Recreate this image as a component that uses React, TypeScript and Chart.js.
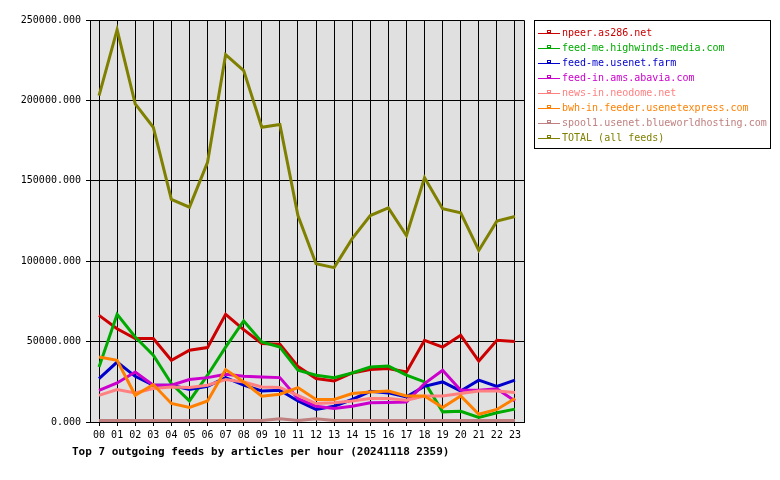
import React, { useEffect, useRef } from "react";
import { Chart, registerables } from "chart.js";

Chart.register(...registerables);

// Hours of the day shown on the x axis
const HOURS = [
  "00", "01", "02", "03", "04", "05", "06", "07", "08", "09", "10", "11",
  "12", "13", "14", "15", "16", "17", "18", "19", "20", "21", "22", "23",
];

// Articles per hour for each outgoing feed
const NPEER = [66300, 58000, 51900, 51900, 38400, 44600, 46300, 67000, 57400, 48800, 48300, 34500, 27000, 25500, 30500, 32600, 33200, 31100, 50800, 46600, 53900, 37900, 50800, 50000];
const HIGHWINDS = [34200, 67000, 52900, 41500, 23900, 13100, 29100, 46600, 62800, 49800, 46600, 32200, 29100, 27600, 30500, 34200, 34800, 29100, 24900, 6300, 6700, 2800, 5700, 8000];
const USENET_FARM = [27000, 37300, 28400, 22900, 22900, 20200, 22200, 27600, 22900, 19300, 19700, 13100, 7800, 9800, 14000, 19100, 18100, 15600, 22200, 24900, 19300, 26000, 22200, 26000];
const ABAVIA = [19700, 24300, 31100, 22900, 22900, 26400, 27600, 29700, 28400, 28000, 27600, 14600, 9800, 8400, 9800, 11900, 12100, 12500, 23900, 32200, 19700, 19700, 20600, 13100];
const NEODOME = [16600, 20200, 18100, 20800, 21800, 21400, 22900, 26400, 24900, 21800, 21400, 16600, 11500, 11900, 13100, 14600, 14600, 13500, 16200, 16200, 17700, 19300, 19300, 18300];
const USENETEXPRESS = [40400, 38400, 16600, 23300, 11500, 9000, 13100, 32600, 24900, 16000, 17300, 21400, 14000, 14000, 17700, 18700, 19300, 16200, 16200, 9000, 16200, 4800, 7800, 14600];
const BLUEWORLD = [900, 900, 900, 900, 900, 900, 900, 900, 900, 900, 2000, 900, 2000, 900, 900, 900, 900, 900, 900, 900, 900, 900, 900, 900];
const TOTAL = [203000, 244000, 197800, 183300, 138400, 133600, 161500, 228400, 218500, 183300, 185000, 128400, 98400, 96000, 114000, 128400, 133200, 116000, 151900, 132600, 130100, 106700, 124900, 127800];

// Y axis tick values
const Y_TICKS = [0, 50000, 100000, 150000, 200000, 250000];

const SERIES = [
  { label: "npeer.as286.net", data: NPEER, color: "#cc0000" },
  { label: "feed-me.highwinds-media.com", data: HIGHWINDS, color: "#00aa00" },
  { label: "feed-me.usenet.farm", data: USENET_FARM, color: "#0000cc" },
  { label: "feed-in.ams.abavia.com", data: ABAVIA, color: "#cc00cc" },
  { label: "news-in.neodome.net", data: NEODOME, color: "#ff8080" },
  { label: "bwh-in.feeder.usenetexpress.com", data: USENETEXPRESS, color: "#ff8000" },
  { label: "spool1.usenet.blueworldhosting.com", data: BLUEWORLD, color: "#c08080" },
  { label: "TOTAL (all feeds)", data: TOTAL, color: "#808000" },
];

const TITLE = "Top 7 outgoing feeds by articles per hour (20241118 2359)";
const MONO = '"DejaVu Sans Mono", "Liberation Mono", monospace';

const framePlugin = {
  id: "frame",
  beforeDraw(chart: any) {
    const { ctx, chartArea } = chart;
    ctx.save();
    ctx.fillStyle = "#ffffff";
    ctx.fillRect(0, 0, chart.width, chart.height);
    ctx.fillStyle = "#e0e0e0";
    ctx.fillRect(chartArea.left, chartArea.top, chartArea.right - chartArea.left, chartArea.bottom - chartArea.top);
    ctx.restore();
  },
  beforeDatasetsDraw(chart: any) {
    const { ctx, chartArea } = chart;
    ctx.save();
    ctx.strokeStyle = "#000000";
    ctx.lineWidth = 1;
    ctx.beginPath();
    ctx.moveTo(chartArea.left + 0.5, chartArea.top + 0.5);
    ctx.lineTo(chartArea.right + 0.5, chartArea.top + 0.5);
    ctx.lineTo(chartArea.right + 0.5, chartArea.bottom + 0.5);
    ctx.stroke();
    ctx.restore();
  },
  afterDraw(chart: any) {
    const { ctx } = chart;
    ctx.save();
    // legend box
    const bx = 534, by = 20, bw = 236, bh = 128;
    ctx.strokeStyle = "#000000";
    ctx.lineWidth = 1;
    ctx.strokeRect(bx + 0.5, by + 0.5, bw, bh);
    ctx.font = `10px ${MONO}`;
    ctx.textBaseline = "middle";
    ctx.textAlign = "left";
    chart.data.datasets.forEach((ds: any, i: number) => {
      const y = 33 + i * 15;
      ctx.strokeStyle = ds.borderColor;
      ctx.beginPath();
      ctx.moveTo(538, y + 0.5);
      ctx.lineTo(560, y + 0.5);
      ctx.stroke();
      ctx.strokeRect(547.5, y - 2.5, 3, 2);
      ctx.fillStyle = ds.borderColor;
      ctx.fillText(ds.label, 562, y + 0.5);
    });
    // caption under the plot
    ctx.fillStyle = "#000000";
    ctx.font = `bold 11px ${MONO}`;
    ctx.fillText(TITLE, 72, 452);
    ctx.restore();
  },
};

export default function App() {
  const ref = useRef<HTMLCanvasElement | null>(null);

  useEffect(() => {
    if (!ref.current) return;
    const chart = new Chart(ref.current, {
      type: "line",
      data: {
        labels: HOURS,
        datasets: SERIES.map((s, i) => ({
          label: s.label,
          data: s.data,
          borderColor: s.color,
          backgroundColor: s.color,
          borderWidth: 3,
          pointRadius: 0,
          tension: 0,
          fill: false,
          order: -i,
        })),
      },
      options: {
        responsive: false,
        animation: false,
        layout: { padding: { top: 20, right: 256, left: 0, bottom: 0 } },
        plugins: {
          legend: { display: false },
          title: { display: false },
          tooltip: { enabled: false },
        },
        scales: {
          x: {
            type: "category",
            offset: true,
            afterFit(scale: any) {
              scale.height = 58;
            },
            grid: {
              color: "#000000",
              lineWidth: 1,
              drawOnChartArea: true,
              drawTicks: true,
              tickLength: 4,
              offset: false,
            },
            border: { display: true, color: "#000000", width: 1 },
            ticks: {
              color: "#000000",
              font: { family: MONO, size: 10 },
              padding: 3,
              maxRotation: 0,
              autoSkip: false,
            },
          },
          y: {
            min: 0,
            max: 250000,
            afterFit(scale: any) {
              scale.width = 90;
            },
            afterBuildTicks(scale: any) {
              scale.ticks = Y_TICKS.map((v) => ({ value: v }));
            },
            grid: {
              color: "#000000",
              lineWidth: 1,
              drawTicks: true,
              tickLength: 4,
            },
            border: { display: true, color: "#000000", width: 1 },
            ticks: {
              color: "#000000",
              font: { family: MONO, size: 10 },
              padding: 5,
              callback: (v: any) => Number(v).toFixed(3),
            },
          },
        },
      },
      plugins: [framePlugin],
    });
    return () => chart.destroy();
  }, []);

  return (
    <div style={{ position: "fixed", left: 0, top: 0, width: 780, height: 480, background: "#fff" }}>
      <canvas ref={ref} width={780} height={480} />
    </div>
  );
}
